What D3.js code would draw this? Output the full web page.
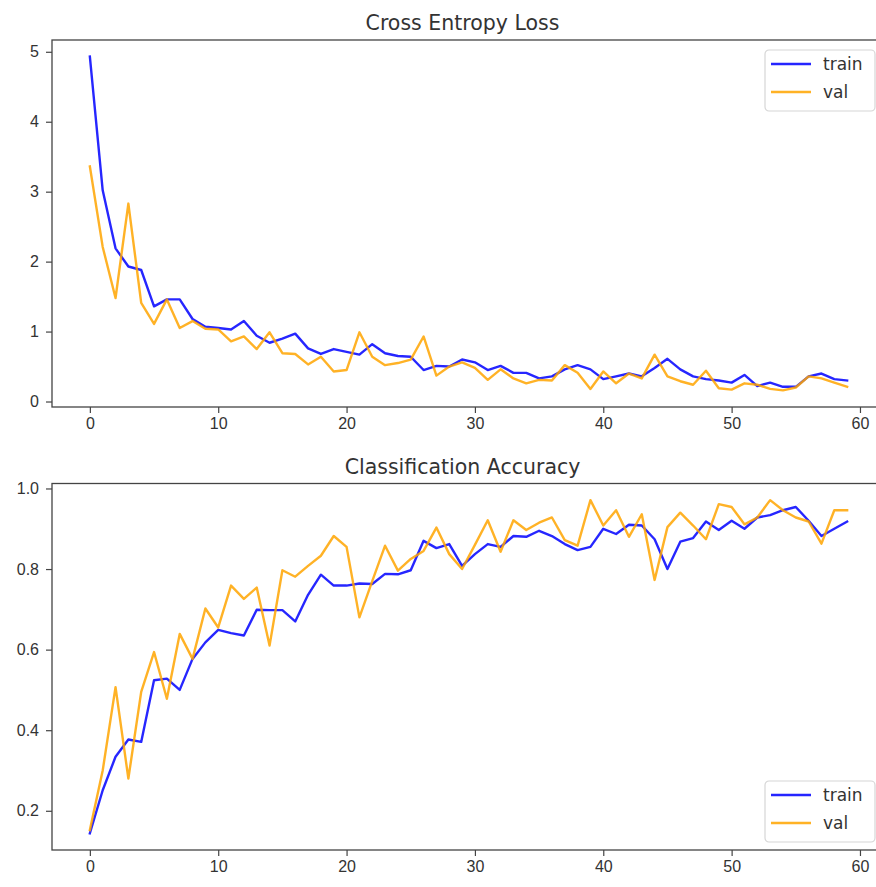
<!DOCTYPE html>
<html>
<head>
<meta charset="utf-8">
<script src="https://cdn.jsdelivr.net/npm/d3@7/dist/d3.min.js"></script>
<style>
  html, body { margin: 0; padding: 0; background: #fff; }
  svg { display: block; font-family: "DejaVu Sans", sans-serif; }
</style>
</head>
<body>
<svg id="chart" width="876" height="887"></svg>
<script>
// Training history: per-epoch loss and accuracy
const epochs = d3.range(60);

const lossTrain = [4.93, 3.02, 2.19, 1.93, 1.88, 1.36, 1.46, 1.46, 1.18, 1.07,
  1.05, 1.03, 1.15, 0.94, 0.84, 0.90, 0.97, 0.76, 0.68, 0.75,
  0.71, 0.67, 0.82, 0.69, 0.65, 0.64, 0.45, 0.51, 0.50, 0.60,
  0.56, 0.45, 0.51, 0.41, 0.41, 0.33, 0.36, 0.46, 0.52, 0.46,
  0.32, 0.36, 0.40, 0.36, 0.48, 0.61, 0.46, 0.36, 0.32, 0.30,
  0.27, 0.38, 0.22, 0.27, 0.21, 0.21, 0.36, 0.40, 0.32, 0.30];

const lossVal = [3.36, 2.21, 1.48, 2.83, 1.41, 1.11, 1.46, 1.05, 1.15, 1.04,
  1.03, 0.86, 0.93, 0.75, 0.99, 0.69, 0.68, 0.53, 0.64, 0.43,
  0.45, 0.99, 0.64, 0.52, 0.55, 0.60, 0.93, 0.37, 0.50, 0.56,
  0.48, 0.31, 0.46, 0.33, 0.26, 0.31, 0.30, 0.52, 0.41, 0.18,
  0.43, 0.26, 0.40, 0.33, 0.67, 0.36, 0.29, 0.24, 0.44, 0.19,
  0.17, 0.26, 0.24, 0.18, 0.16, 0.20, 0.36, 0.33, 0.27, 0.21];

const accTrain = [0.144, 0.251, 0.334, 0.377, 0.371, 0.524, 0.528, 0.500, 0.577, 0.618,
  0.649, 0.641, 0.635, 0.699, 0.698, 0.698, 0.670, 0.736, 0.786, 0.759,
  0.759, 0.764, 0.763, 0.788, 0.787, 0.797, 0.870, 0.852, 0.862, 0.808,
  0.837, 0.862, 0.855, 0.882, 0.880, 0.895, 0.882, 0.862, 0.847, 0.855,
  0.900, 0.887, 0.910, 0.908, 0.874, 0.800, 0.868, 0.877, 0.918, 0.897,
  0.920, 0.900, 0.928, 0.934, 0.946, 0.954, 0.920, 0.882, 0.900, 0.918];

const accVal = [0.152, 0.300, 0.507, 0.280, 0.495, 0.594, 0.478, 0.639, 0.577, 0.702,
  0.655, 0.759, 0.726, 0.754, 0.610, 0.797, 0.781, 0.808, 0.833, 0.882,
  0.855, 0.680, 0.770, 0.858, 0.796, 0.825, 0.845, 0.903, 0.837, 0.800,
  0.860, 0.921, 0.843, 0.921, 0.897, 0.915, 0.928, 0.872, 0.858, 0.971,
  0.908, 0.946, 0.880, 0.936, 0.773, 0.904, 0.940, 0.908, 0.874, 0.961,
  0.954, 0.911, 0.928, 0.971, 0.946, 0.928, 0.918, 0.863, 0.946, 0.946];

const xTicks = [0, 10, 20, 30, 40, 50, 60];
const lossTicks = [0, 1, 2, 3, 4, 5];
const accTicks = [0.2, 0.4, 0.6, 0.8, 1.0];
const seriesNames = ["train", "val"];
const seriesColors = ["#0000ff", "#ffa500"];

const svg = d3.select("#chart");
svg.append("rect").attr("width", 876).attr("height", 887).attr("fill", "#fff");

// pad a data extent by 5% on each side
function padded(values) {
  const [lo, hi] = d3.extent(values);
  const m = (hi - lo) * 0.05;
  return [lo - m, hi + m];
}

const left = 52, right = 885;
const x = d3.scaleLinear().domain(padded(epochs)).range([left, right]);

function panel(cfg) {
  const y = d3.scaleLinear().domain(padded(cfg.series.flat())).range([cfg.bottom, cfg.top]);
  const g = svg.append("g");

  // lines
  const line = d3.line().x((d, i) => x(epochs[i])).y(d => y(d));
  cfg.series.forEach((s, k) => {
    g.append("path").datum(s)
      .attr("fill", "none")
      .attr("stroke", seriesColors[k])
      .attr("stroke-width", 2.4)
      .attr("stroke-linejoin", "round")
      .attr("stroke-linecap", "square")
      .attr("opacity", 0.85)
      .attr("d", line);
  });

  // axes
  const xa = g.append("g").attr("transform", `translate(0,${cfg.bottom})`)
    .call(d3.axisBottom(x).tickValues(xTicks).tickSize(6).tickPadding(5).tickFormat(d3.format("d")));
  const ya = g.append("g").attr("transform", `translate(${left},0)`)
    .call(d3.axisLeft(y).tickValues(cfg.ticks).tickSize(6).tickPadding(7).tickFormat(cfg.fmt));
  [xa, ya].forEach(a => {
    a.select(".domain").remove();
    a.selectAll(".tick line").attr("stroke", "#444").attr("stroke-width", 1.2);
    a.selectAll(".tick text").attr("fill", "#333").style("font-size", "16px");
  });

  // frame
  g.append("rect")
    .attr("x", left).attr("y", cfg.top)
    .attr("width", right - left).attr("height", cfg.bottom - cfg.top)
    .attr("fill", "none").attr("stroke", "#444").attr("stroke-width", 1.3);

  // title
  g.append("text")
    .attr("x", (left + right) / 2 - 6).attr("y", cfg.top - 10)
    .attr("text-anchor", "middle")
    .attr("fill", "#333")
    .style("font-size", "20.5px")
    .text(cfg.title);

  // legend
  const lg = g.append("g").attr("transform", `translate(765,${cfg.legendTop})`);
  lg.append("rect").attr("width", 110).attr("height", 61).attr("rx", 4)
    .attr("fill", "#fff").attr("fill-opacity", 0.8)
    .attr("stroke", "#d6d6d6").attr("stroke-width", 1.2);
  seriesNames.forEach((name, k) => {
    const cy = 14 + k * 28;
    lg.append("line").attr("x1", 6).attr("x2", 46).attr("y1", cy).attr("y2", cy)
      .attr("stroke", seriesColors[k]).attr("stroke-width", 2.4).attr("opacity", 0.85);
    lg.append("text").attr("x", 58).attr("y", cy + 6)
      .attr("fill", "#333").style("font-size", "17px").text(name);
  });
}

panel({
  title: "Cross Entropy Loss",
  top: 40, bottom: 407,
  series: [lossTrain, lossVal],
  ticks: lossTicks, fmt: d3.format("d"),
  legendTop: 50
});

panel({
  title: "Classification Accuracy",
  top: 483.5, bottom: 850,
  series: [accTrain, accVal],
  ticks: accTicks, fmt: d3.format(".1f"),
  legendTop: 781
});
</script>
</body>
</html>
